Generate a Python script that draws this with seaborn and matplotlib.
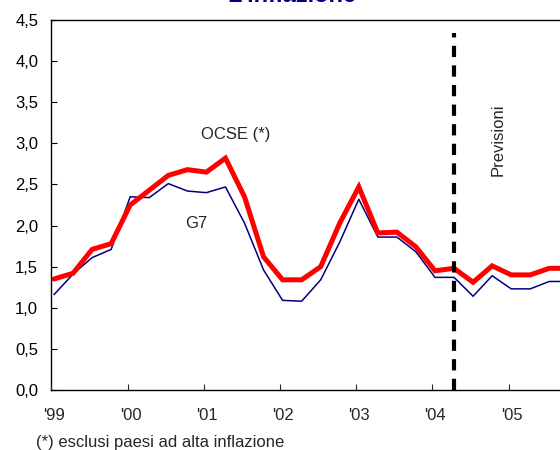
import numpy as np
import pandas as pd
import matplotlib
matplotlib.use("Agg")
import matplotlib.pyplot as plt
from matplotlib.transforms import ScaledTranslation
import seaborn as sns

# ---- data (quarterly, '99 Q1 .. '05 Q4) ----
years = ["'99", "'00", "'01", "'02", "'03", "'04", "'05"]
quarters = [f"{y} Q{q}" for y in years for q in range(1, 5)]
ocse = [1.35, 1.42, 1.71, 1.78, 2.25, 2.43, 2.61, 2.68, 2.65, 2.82, 2.35, 1.62,
        1.34, 1.34, 1.50, 2.03, 2.47, 1.91, 1.92, 1.74, 1.45, 1.48, 1.31, 1.51,
        1.40, 1.40, 1.48, 1.48]
g7 = [1.16, 1.41, 1.61, 1.71, 2.35, 2.34, 2.51, 2.42, 2.40, 2.47, 2.03, 1.46,
      1.09, 1.08, 1.34, 1.80, 2.32, 1.86, 1.86, 1.68, 1.37, 1.37, 1.14, 1.39,
      1.23, 1.23, 1.32, 1.32]
forecast_start = "'04 Q2"
y_ticks = [0.0, 0.5, 1.0, 1.5, 2.0, 2.5, 3.0, 3.5, 4.0, 4.5]
y_tick_labels = [f"{v:.1f}".replace(".", ",") for v in y_ticks]

df = pd.DataFrame({"q": np.arange(len(quarters)), "OCSE": ocse, "G7": g7})

sns.set_style("white")
plt.rcParams["font.family"] = ["Liberation Sans", "DejaVu Sans"]

FS = 12
W, H = 560, 450
fig = plt.figure(figsize=(W / 100, H / 100), dpi=100)
ax_l, ax_r, ax_b, ax_t = 51.4, 590, 390, 20
ax = fig.add_axes([ax_l / W, 1 - ax_b / H, (ax_r - ax_l) / W, (ax_b - ax_t) / H])

sns.lineplot(data=df, x="q", y="G7", ax=ax, color="#000080", linewidth=1.1)
sns.lineplot(data=df, x="q", y="OCSE", ax=ax, color="#FF0000", linewidth=3.6,
             solid_joinstyle="miter")

# x positions: first point 2.6px right of spine, 19.05px per quarter
step = 19.05
off = 2.6
ax.set_xlim(-off / step, (ax_r - ax_l - off) / step)
ax.set_ylim(0, 4.5)
ax.set_yticks(y_ticks)
ax.set_yticklabels(y_tick_labels)
ax.set_xticks([])
ax.set_xlabel("")
ax.set_ylabel("")
ax.tick_params(axis="y", direction="in", length=4, width=0.8, pad=9.5,
               labelsize=FS, colors="black", left=True)

for s in ax.spines.values():
    s.set_color("black")
    s.set_linewidth(1.0)

# year axis (one tick per year, 4 quarters wide)
ax2 = ax.twiny()
year_px = 4 * step
ax2.set_xlim(0, (ax_r - ax_l) / year_px)
ax2.set_xticks(range(len(years)))
ax2.set_xticklabels(years)
ax2.xaxis.set_ticks_position("bottom")
ax2.xaxis.set_label_position("bottom")
ax2.tick_params(axis="x", direction="in", length=4, width=0.8, pad=13,
                labelsize=FS, bottom=True, top=False)
for lab in ax2.get_xticklabels():
    lab.set_transform(lab.get_transform() + ScaledTranslation(0.03, 0, fig.dpi_scale_trans))
for s in ax2.spines.values():
    s.set_visible(False)

# forecast divider
fi = quarters.index(forecast_start)
ax.axvline(fi, ymin=0, ymax=0.965, color="black", linewidth=3,
           linestyle=(0, (2.7, 2.0)))

ax.text(9.55, 3.11, "OCSE (*)", fontsize=FS, ha="center", va="center")
ax.text(7.45, 2.02, "G7", fontsize=FS, ha="center", va="center")
ax.text(23.3, 3.04, "Previsioni", fontsize=FS, ha="center", va="center",
        rotation=90)

fig.text(292 / W, 1 - 1.5 / H, "L'inflazione", fontsize=17, fontweight="bold",
         color="#000080", ha="center", va="baseline")
fig.text(36.5 / W, 1 - 443 / H, "(*) esclusi paesi ad alta inflazione",
         fontsize=FS, ha="left", va="center")

fig.savefig("out.png", dpi=100)
